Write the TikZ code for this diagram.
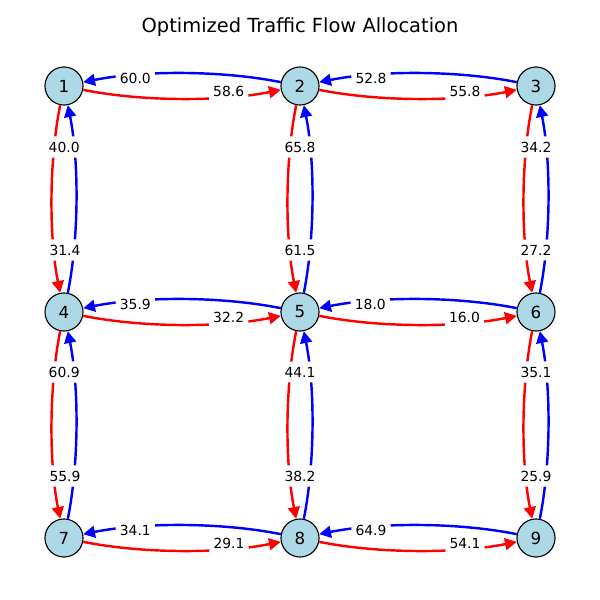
\documentclass[tikz,border=0pt]{standalone}
\usepackage{fontspec}
\setmainfont{DejaVu Sans}
\usetikzlibrary{calc,arrows.meta}
\definecolor{redC}{HTML}{FF0000}
\definecolor{blueC}{HTML}{0000FF}
\definecolor{nodeC}{HTML}{ADD8E6}
\newcommand\flowarc[3]{\draw[#3] (#1) .. controls ($(#1)!0.33333!(#2)!0.1!-90:(#2)$) and ($(#2)!0.33333!(#1)!0.1!90:(#1)$) .. (#2);}
\begin{document}
\begin{tikzpicture}[x=0.72pt,y=0.72pt,
  vert/.style={circle,draw=black,fill=nodeC,line width=0.8pt,minimum size=27.4pt,inner sep=0pt,font=\fontsize{12}{14}\selectfont},
  flowbase/.style={line width=1.75pt,-{Triangle[length=8.5pt,width=8.5pt]}},
  fwd/.style={flowbase,draw=redC},
  bwd/.style={flowbase,draw=blueC},
  lbl/.style={fill=white,inner xsep=3pt,inner ysep=3.8pt,rounded corners=2pt,font=\fontsize{10}{12}\selectfont}]
\useasboundingbox (0,0) rectangle (600,600);
\node[anchor=base,font=\fontsize{14}{16}\selectfont] (title) at (300,567) {Optimized Traffic Flow Allocation};
% nodes
\node[vert] (n1) at (64,514) {1};
\node[vert] (n2) at (300,514) {2};
\node[vert] (n3) at (536,514) {3};
\node[vert] (n4) at (64,288) {4};
\node[vert] (n5) at (300,288) {5};
\node[vert] (n6) at (536,288) {6};
\node[vert] (n7) at (64,62) {7};
\node[vert] (n8) at (300,62) {8};
\node[vert] (n9) at (536,62) {9};
% forward (red)
\flowarc{n1}{n2}{fwd}
\flowarc{n2}{n3}{fwd}
\flowarc{n4}{n5}{fwd}
\flowarc{n5}{n6}{fwd}
\flowarc{n7}{n8}{fwd}
\flowarc{n8}{n9}{fwd}
\flowarc{n1}{n4}{fwd}
\flowarc{n4}{n7}{fwd}
\flowarc{n2}{n5}{fwd}
\flowarc{n5}{n8}{fwd}
\flowarc{n3}{n6}{fwd}
\flowarc{n6}{n9}{fwd}
% backward (blue)
\flowarc{n2}{n1}{bwd}
\flowarc{n3}{n2}{bwd}
\flowarc{n5}{n4}{bwd}
\flowarc{n6}{n5}{bwd}
\flowarc{n8}{n7}{bwd}
\flowarc{n9}{n8}{bwd}
\flowarc{n4}{n1}{bwd}
\flowarc{n7}{n4}{bwd}
\flowarc{n5}{n2}{bwd}
\flowarc{n8}{n5}{bwd}
\flowarc{n6}{n3}{bwd}
\flowarc{n9}{n6}{bwd}
% labels
\node[lbl] (l21) at (135.3,521.8) {60.0};
\node[lbl] (l12) at (228.7,508.3) {58.6};
\node[lbl] (l32) at (371,521.8) {52.8};
\node[lbl] (l23) at (465,508.3) {55.8};
\node[lbl] (l54) at (135.3,295.3) {35.9};
\node[lbl] (l45) at (228.7,282.3) {32.2};
\node[lbl] (l65) at (370.3,295.3) {18.0};
\node[lbl] (l56) at (464.5,282.3) {16.0};
\node[lbl] (l87) at (135.3,69.2) {34.1};
\node[lbl] (l78) at (229,56.3) {29.1};
\node[lbl] (l98) at (371,69.2) {64.9};
\node[lbl] (l89) at (465,56.3) {54.1};
\node[lbl] (l41) at (64.2,453) {40.0};
\node[lbl] (l14) at (65,350) {31.4};
\node[lbl] (l74) at (64.2,228) {60.9};
\node[lbl] (l47) at (65,124) {55.9};
\node[lbl] (l52) at (300,453) {65.8};
\node[lbl] (l25) at (300,350) {61.5};
\node[lbl] (l85) at (300,228) {44.1};
\node[lbl] (l58) at (300,124) {38.2};
\node[lbl] (l63) at (536,453) {34.2};
\node[lbl] (l36) at (536,350) {27.2};
\node[lbl] (l96) at (536,228) {35.1};
\node[lbl] (l69) at (536,124) {25.9};
\end{tikzpicture}
\end{document}
